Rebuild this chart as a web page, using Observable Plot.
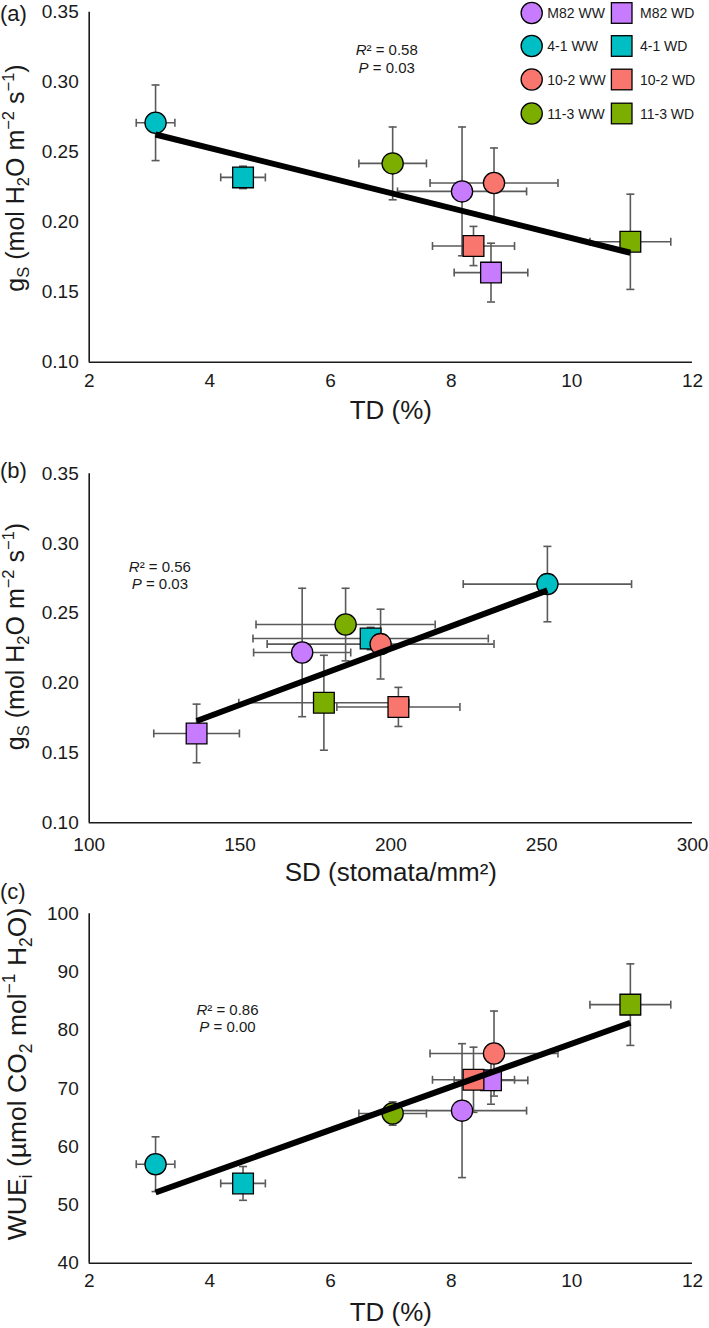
<!DOCTYPE html>
<html><head><meta charset="utf-8">
<script src="https://cdn.jsdelivr.net/npm/d3@7"></script>
<script src="https://cdn.jsdelivr.net/npm/@observablehq/plot@0.6"></script>
<style>
body{margin:0;background:#fff;}
#chart{position:relative;width:709px;height:1328px;overflow:hidden;background:#fff;}
.panel{position:absolute;left:0;}
</style></head><body><div id="chart"></div>
<script>
// ---------------- data ----------------
const lines      = ["M82","M82","4-1","4-1","10-2","10-2","11-3","11-3"];
const treatments = ["WW","WD","WW","WD","WW","WD","WW","WD"];
const td     = [8.18, 8.66, 3.10, 4.55, 8.71, 8.37, 7.03, 10.97];
const tdErr  = [1.07, 0.61, 0.32, 0.37, 1.06, 0.68, 0.56, 0.67];
const gs     = [0.222, 0.164, 0.271, 0.232, 0.228, 0.183, 0.242, 0.186];
const gsErr  = [0.046, 0.021, 0.027, 0.008, 0.025, 0.014, 0.026, 0.034];
const sd     = [170.6, 135.6, 251.9, 193.3, 196.6, 202.5, 185.0, 177.8];
const sdErr  = [16.1, 14.2, 27.9, 39.0, 37.6, 20.4, 29.7, 28.2];
const wue    = [66.2, 71.4, 57.0, 53.7, 76.0, 71.5, 65.7, 84.4];
const wueErr = [11.5, 4.1, 4.7, 2.9, 7.3, 5.6, 2.0, 7.0];
const lineNames  = ["M82","4-1","10-2","11-3"];
const lineColors = ["#C77CFF","#00BFC4","#F8766D","#7CAE00"];
const treatmentNames = ["WW","WD"];
const tdTicks  = [2,4,6,8,10,12];
const gsTicks  = [0.10,0.15,0.20,0.25,0.30,0.35];
const sdTicks  = [100,150,200,250,300];
const wueTicks = [40,50,60,70,80,90,100];
const r2Values = ["0.58","0.56","0.86"];
const pValues  = ["0.03","0.03","0.00"];
const panelLabels = ["(a)","(b)","(c)"];

const rows = lines.map((l,i)=>({line:l, treat:treatments[i], td:td[i], tdErr:tdErr[i],
  gs:gs[i], gsErr:gsErr[i], sd:sd[i], sdErr:sdErr[i], wue:wue[i], wueErr:wueErr[i]}));

// ---------------- styling ----------------
const FONT = "'Liberation Sans', Arial, Helvetica, sans-serif";
const ERR = "#5a5a5a";
const TXT = "#1a1a1a";
const capH = {draw(ctx,size){const r=Math.sqrt(size/Math.PI);ctx.moveTo(-r,0);ctx.lineTo(r,0);}};
const capV = {draw(ctx,size){const r=Math.sqrt(size/Math.PI);ctx.moveTo(0,-r);ctx.lineTo(0,r);}};

const gsTitle = [["g"],["S","sub"],[" (mol H"],["2","sub"],["O m"],["\u22122","sup"],[" s"],["\u22121","sup"],[")"]];
const wueTitle = [["WUE"],["i","sub"],[" (\u00B5mol CO"],["2","sub"],[" mol"],["\u22121","sup"],[" H"],["2","sub"],["O)"]];

const panels = [
  {top:0, height:440, mt:11.7, mb:78.3, x:"td", xe:"tdErr", xd:[2,12], xt:tdTicks, xf:d=>d,
   y:"gs", ye:"gsErr", yd:[0.10,0.35], yt:gsTicks, yf:".2f", xpad:11.3, xTitle:"TD (%)", xTitleDy:56.6,
   yTitle:gsTitle, yFs:25, yTitleX:23.5, yTitleCy:178, labelY:20.5, ann:[6.94,0.3226]},
  {top:440, height:450, mt:33.3, mb:67.7, x:"sd", xe:"sdErr", xd:[100,300], xt:sdTicks, xf:d=>d,
   y:"gs", ye:"gsErr", yd:[0.10,0.35], yt:gsTicks, yf:".2f", xpad:14.3, xTitle:"SD (stomata/mm\u00B2)", xTitleDy:57.7,
   yTitle:gsTitle, yFs:25, yTitleX:23.5, yTitleCy:196.5, labelY:37.5, ann:[123.6,0.2831]},
  {top:890, height:438, mt:23.3, mb:65.3, x:"td", xe:"tdErr", xd:[2,12], xt:tdTicks, xf:d=>d,
   y:"wue", ye:"wueErr", yd:[40,100], yt:wueTicks, yf:d=>d, xpad:10.6, xTitle:"TD (%)", xTitleDy:57.3,
   yTitle:wueTitle, yFs:26.5, yTitleX:26, yTitleCy:184, labelY:9, ann:[4.30,83.4]}
];

const chart = document.getElementById("chart");

function addRich(sel, segs, fs){
  let shift = 0;
  segs.forEach(([s,kind])=>{
    const ts = sel.append("tspan").text(s);
    const target = kind==="sub" ? 0.22*fs : kind==="sup" ? -0.4*fs : 0;
    if (target-shift !== 0) ts.attr("dy", target-shift);
    shift = target;
    if (kind) ts.attr("font-size", fs*0.66);
  });
}

panels.forEach((p,pi)=>{
  const X = p.x, Y = p.y, XE = p.xe, YE = p.ye;
  const plot = Plot.plot({
    width: 709, height: p.height,
    marginLeft: 88.7, marginRight: 17, marginTop: p.mt, marginBottom: p.mb,
    style: {fontFamily: FONT, fontSize: "19px", color: TXT, background: "transparent", overflow: "visible"},
    x: {domain: p.xd, nice: false},
    y: {domain: p.yd, nice: false},
    color: {domain: lineNames, range: lineColors},
    symbol: {domain: treatmentNames, range: ["circle","square"]},
    r: {type: "identity"},
    marks: [
      Plot.ruleX([p.xd[0]], {stroke: TXT, strokeWidth: 1.6}),
      Plot.ruleY([p.yd[0]], {stroke: TXT, strokeWidth: 1.6}),
      Plot.axisX({ticks: p.xt, tickSize: 0, tickPadding: p.xpad, fontSize: 19, label: null, tickFormat: p.xf}),
      Plot.axisY({ticks: p.yt, tickSize: 0, tickPadding: 10.5, fontSize: 19, label: null, tickFormat: p.yf}),
      // error bars
      Plot.ruleY(rows, {y: Y, x1: d=>d[X]-d[XE], x2: d=>d[X]+d[XE], stroke: ERR, strokeWidth: 1.6}),
      Plot.ruleX(rows, {x: X, y1: d=>d[Y]-d[YE], y2: d=>d[Y]+d[YE], stroke: ERR, strokeWidth: 1.6}),
      Plot.dot(rows, {x: d=>d[X]-d[XE], y: Y, symbol: capV, r: 4, stroke: ERR, strokeWidth: 1.6, fill: "none"}),
      Plot.dot(rows, {x: d=>d[X]+d[XE], y: Y, symbol: capV, r: 4, stroke: ERR, strokeWidth: 1.6, fill: "none"}),
      Plot.dot(rows, {x: X, y: d=>d[Y]-d[YE], symbol: capH, r: 4, stroke: ERR, strokeWidth: 1.6, fill: "none"}),
      Plot.dot(rows, {x: X, y: d=>d[Y]+d[YE], symbol: capH, r: 4, stroke: ERR, strokeWidth: 1.6, fill: "none"}),
      // markers
      Plot.dot(rows, {x: X, y: Y, fill: "line", symbol: "treat", r: d=>d.treat==="WW"?10.6:11.7,
        stroke: "black", strokeWidth: 1.3, sort: null}),
      // trend line
      Plot.linearRegressionY(rows, {x: X, y: Y, ci: 0, stroke: "black", strokeWidth: 6, strokeLinecap: "butt"}),
      // x title
      Plot.text([p.xTitle], {frameAnchor: "bottom", lineAnchor: "bottom", dy: p.xTitleDy, fontSize: 26, fill: TXT})
    ]
  });
  const holder = document.createElement("div");
  holder.className = "panel";
  holder.style.top = p.top + "px";
  holder.appendChild(plot);
  chart.appendChild(holder);

  const svg = d3.select(plot);
  const sx = plot.scale("x"), sy = plot.scale("y");
  // y title
  const yt = svg.append("text").attr("transform", `translate(${p.yTitleX},${p.yTitleCy}) rotate(-90)`)
     .attr("text-anchor","middle").attr("font-size",p.yFs).attr("fill",TXT).attr("font-family",FONT);
  addRich(yt, p.yTitle, p.yFs);
  // panel label
  svg.append("text").attr("x",0).attr("y",p.labelY).attr("text-anchor","start").attr("font-size",22).attr("fill",TXT)
     .attr("font-family",FONT).text(panelLabels[pi]);
  // annotation
  const ax = sx.apply(p.ann[0]), ay = sy.apply(p.ann[1]);
  const t1 = svg.append("text").attr("x",ax).attr("y",ay+5).attr("text-anchor","middle").attr("font-size",15).attr("fill",TXT).attr("font-family",FONT);
  t1.append("tspan").attr("font-style","italic").text("R");
  t1.append("tspan").text("\u00B2 = " + r2Values[pi]);
  const t2 = svg.append("text").attr("x",ax).attr("y",ay+5+17.5).attr("text-anchor","middle").attr("font-size",15).attr("fill",TXT).attr("font-family",FONT);
  t2.append("tspan").attr("font-style","italic").text("P");
  t2.append("tspan").text(" = " + pValues[pi]);

  if (pi === 0) {
    // legend
    const lg = svg.append("g").attr("font-family",FONT).attr("font-size",14).attr("fill",TXT).attr("text-anchor","start");
    const rowY = [13, 46, 79.5, 113.5];
    lineNames.forEach((n,i)=>{
      lg.append("circle").attr("cx",531.7).attr("cy",rowY[i]).attr("r",10.6)
        .attr("fill",lineColors[i]).attr("stroke","black").attr("stroke-width",1.3);
      lg.append("text").attr("x",547.3).attr("y",rowY[i]+5).text(n+" WW");
      lg.append("rect").attr("x",621.7-10.3).attr("y",rowY[i]-10.3).attr("width",20.6).attr("height",20.6)
        .attr("fill",lineColors[i]).attr("stroke","black").attr("stroke-width",1.3);
      lg.append("text").attr("x",640).attr("y",rowY[i]+5).text(n+" WD");
    });
  }
});
</script></body></html>
